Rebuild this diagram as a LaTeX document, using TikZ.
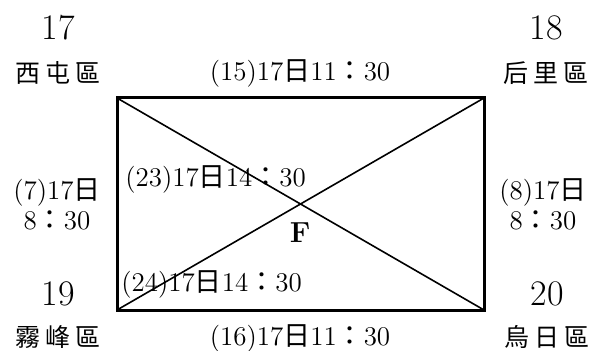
\documentclass[tikz,border=0pt]{standalone}
\usepackage{amsmath,amssymb}
\usepackage{fontspec}
\newfontfamily\cjk{Noto Sans CJK TC}
\usepackage{tikz}
\newcommand{\ri}{{\cjk 日}}
\newcommand{\mh}{{\cjk ：}}
\newcommand{\qu}[3]{{\cjk #1\hspace{2.5pt}#2\hspace{2.5pt}#3}}
\tikzset{
  lbl/.style={inner sep=0pt,font=\fontsize{13.5}{15}\selectfont,align=center},
  num/.style={inner sep=0pt,font=\fontsize{18}{20}\selectfont},
  dist/.style={inner sep=0pt,font=\fontsize{12.5}{15}\selectfont}
}
\begin{document}
\begin{tikzpicture}[x=0.5pt,y=-0.5pt]
\useasboundingbox (0,0) rectangle (592,351);
\coordinate (NW) at (117,98);
\coordinate (NE) at (484,98);
\coordinate (SW) at (117,310);
\coordinate (SE) at (484,310);
\draw[line width=1.5pt] (NW) rectangle (SE);
\draw[line width=0.8pt] (NW) -- (SE);
\draw[line width=0.8pt] (SW) -- (NE);
% corners
\node[num] (n17) at (58,28) {17};
\node[dist] (d17) at (58,73) {\qu{西}{屯}{區}};
\node[num] (n18) at (546,28) {18};
\node[dist] (d18) at (546,73) {\qu{后}{里}{區}};
\node[num] (n19) at (58,294) {19};
\node[dist] (d19) at (58,337) {\qu{霧}{峰}{區}};
\node[num] (n20) at (547,294) {20};
\node[dist] (d20) at (547,337) {\qu{烏}{日}{區}};
% edges
\node[lbl] (e15) at (300,73) {(15)17\ri11\mh30};
\node[lbl] (e16) at (300,338) {(16)17\ri11\mh30};
\node[lbl] (e7) at (57,204) {(7)17\ri\\8\mh30};
\node[lbl] (e8) at (543,204) {(8)17\ri\\8\mh30};
\node[lbl,anchor=west] (e23) at (125,179) {(23)17\ri14\mh30};
\node[lbl,anchor=west] (e24) at (121,284) {(24)17\ri14\mh30};
\node[inner sep=0pt,font=\fontsize{14.5}{16}\bfseries] (F) at (300,233) {F};
\end{tikzpicture}
\end{document}
